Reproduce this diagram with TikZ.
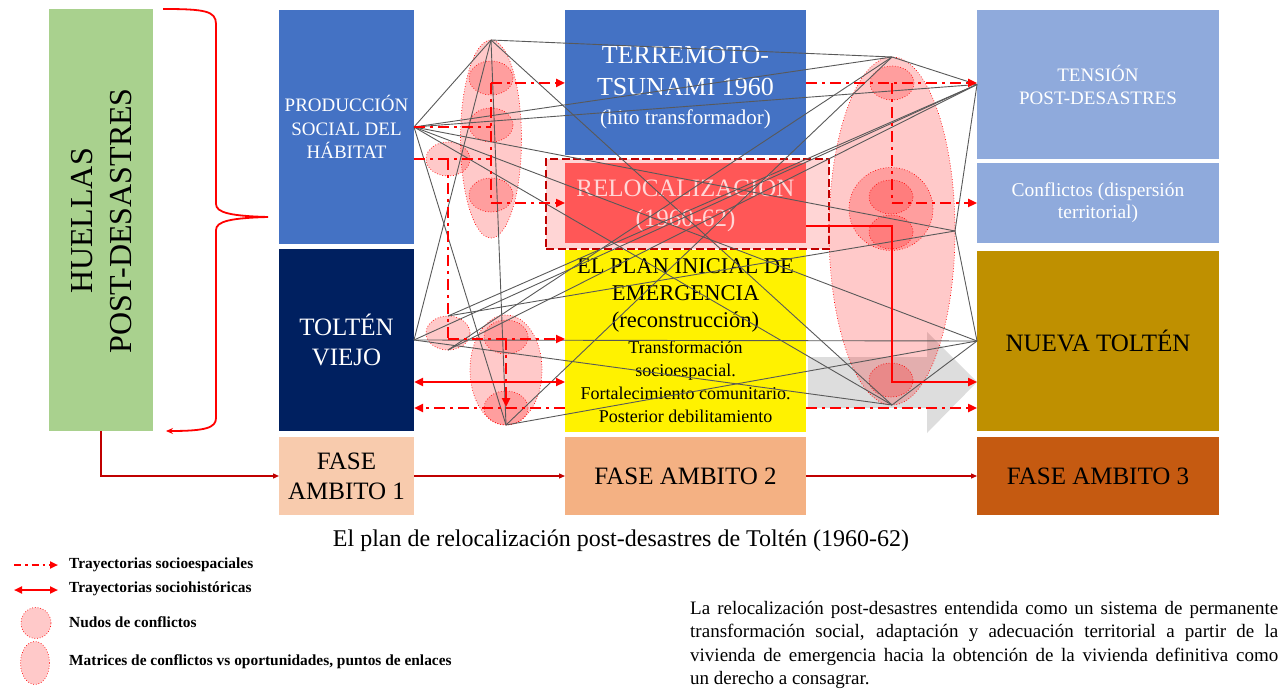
\documentclass[tikz,border=0pt]{standalone}
\usepackage{fontspec}
\setmainfont{Liberation Serif}
\usetikzlibrary{arrows.meta,calc,shapes.geometric}
\definecolor{hgreen}{RGB}{169,209,142}
\definecolor{mblue}{RGB}{68,114,196}
\definecolor{navy}{RGB}{0,32,96}
\definecolor{lblue}{RGB}{143,170,220}
\definecolor{gold}{RGB}{191,144,0}
\definecolor{fase1}{RGB}{248,203,173}
\definecolor{fase2}{RGB}{244,177,131}
\definecolor{fase3}{RGB}{197,90,17}
\definecolor{relred}{RGB}{255,87,87}
\definecolor{darkred}{RGB}{192,0,0}
\definecolor{pinkfill}{RGB}{255,213,213}
\definecolor{reltext}{RGB}{255,214,214}
\definecolor{netgray}{RGB}{89,89,89}
\definecolor{arrowgray}{RGB}{217,217,217}
\begin{document}
\begin{tikzpicture}[x=1pt,y=-1pt,
  box/.style={inner sep=0pt,outer sep=0pt,align=center},
  pinkell/.style={ellipse,draw=red,dotted,line width=0.7pt,fill=red,fill opacity=0.21,inner sep=0pt,outer sep=0pt},
  nodo/.style={pinkell,minimum width=44pt,minimum height=34pt},
  net/.style={draw=netgray,line width=0.9pt},
  traj/.style={draw=red,line width=2.5pt,dash pattern=on 11pt off 5pt on 3pt off 5pt},
  hist/.style={draw=red,line width=2.6pt},
  tip/.style={-{Triangle[length=9pt,width=8pt]}},
  tips2/.style={{Triangle[length=9pt,width=8pt]}-{Triangle[length=9pt,width=8pt]}},
  phase/.style={draw=darkred,line width=1.2pt,-{Triangle[length=6pt,width=5pt]}},
  legtxt/.style={anchor=west,inner sep=0pt,font=\bfseries\fontsize{15.4}{18}\selectfont},
]
\useasboundingbox (0,0) rectangle (1279,692);

% ---------- boxes ----------
\node[box,fill=hgreen,minimum width=104pt,minimum height=422pt] (hue) at (101,220) {};
\node[rotate=90,align=center,font=\fontsize{32}{39}\selectfont] (huetext) at (102,221) {HUELLAS\\POST-DESASTRES};

\node[box,fill=mblue,text=white,minimum width=135pt,minimum height=234pt,font=\fontsize{19}{23.5}\selectfont] (psh) at (346.5,127) {PRODUCCIÓN\\SOCIAL DEL\\HÁBITAT};
\node[box,fill=navy,text=white,minimum width=135pt,minimum height=182pt,font=\fontsize{25}{30}\selectfont] (tv) at (346.5,340) {TOLTÉN\\VIEJO};
\node[box,fill=fase1,minimum width=135pt,minimum height=78pt,font=\fontsize{25}{30}\selectfont] (fa1) at (346.5,476) {FASE\\AMBITO 1};

\node[box,fill=mblue,minimum width=241pt,minimum height=145pt] (ter) at (685.5,82.5) {};
\node[align=center,text=white,font=\fontsize{26}{32}\selectfont] (ter1) at (685.5,71) {TERREMOTO-\\TSUNAMI 1960};
\node[align=center,text=white,font=\fontsize{21}{25}\selectfont] (ter2) at (685.5,119) {(hito transformador)};

\node[box,draw=darkred,line width=2.8pt,dash pattern=on 8pt off 3.5pt,fill=pinkfill,minimum width=283pt,minimum height=90pt] (relbg) at (687.5,204) {};
\node[box,fill=relred,text=reltext,minimum width=241pt,minimum height=80pt,font=\fontsize{25}{30}\selectfont] (rel) at (685.5,203) {RELOCALIZACIÓN\\(1960-62)};

\node[box,fill=yellow,minimum width=241pt,minimum height=182pt] (plan) at (685.5,341) {};
\node[align=center,font=\fontsize{22.5}{27}\selectfont] (plan1) at (685.5,295) {EL PLAN INICIAL DE\\EMERGENCIA\\(reconstrucción)};
\node[align=center,font=\fontsize{18}{23}\selectfont] (plan2) at (685.5,382) {Transformación\\socioespacial.\\Fortalecimiento comunitario.\\Posterior debilitamiento};
\node[box,fill=fase2,minimum width=241pt,minimum height=78pt,font=\fontsize{25}{30}\selectfont] (fa2) at (685.5,476) {FASE AMBITO 2};

\node[box,fill=lblue,text=white,minimum width=242pt,minimum height=149pt,font=\fontsize{19}{23}\selectfont] (ten) at (1098,84.5) {TENSIÓN\\POST-DESASTRES};
\node[box,fill=lblue,text=white,minimum width=242pt,minimum height=80pt,font=\fontsize{19.5}{22}\selectfont] (con) at (1098,203) {Conflictos (dispersión\\territorial)};
\node[box,fill=gold,minimum width=242pt,minimum height=180pt,font=\fontsize{25}{30}\selectfont] (nt) at (1098,341) {NUEVA TOLTÉN};
\node[box,fill=fase3,minimum width=242pt,minimum height=78pt,font=\fontsize{25}{30}\selectfont] (fa3) at (1098,476) {FASE AMBITO 3};

% ---------- grey block arrow ----------
\fill[arrowgray,opacity=0.9] (808,357) -- (927,357) -- (927,332) -- (977,382) -- (927,433) -- (927,408) -- (808,408) -- cycle;

% ---------- conflict ellipses ----------
\node[pinkell,minimum width=61pt,minimum height=198pt] (mL) at (491,139) {};
\node[nodo] (nL1) at (491,78) {};
\node[nodo] (nL2) at (491,125) {};
\node[nodo] (nL3) at (491,195) {};
\node[nodo] (nL4) at (448,159) {};
\node[nodo] (nB1) at (448,333) {};
\node[pinkell,minimum width=72pt,minimum height=110pt] (mB) at (506,370) {};
\node[nodo] (nB2) at (506,337) {};
\node[nodo] (nB3) at (506,408) {};
\node[pinkell,minimum width=126pt,minimum height=348pt] (mR) at (892,231) {};
\node[nodo] (nR1) at (892,83) {};
\node[pinkell,minimum width=84pt,minimum height=83pt] (rR) at (891,209) {};
\node[nodo] (nR2) at (891,197) {};
\node[nodo] (nR3) at (891,232) {};
\node[nodo] (nR4) at (891,380) {};

% ---------- network of grey links ----------
\coordinate (A) at (psh.east);
\coordinate (B) at (mL.north);
\coordinate (C) at (mR.north);
\coordinate (D) at (ten.west);
\coordinate (E) at (mR.east);
\coordinate (F) at (nt.west);
\coordinate (G) at (mR.south);
\coordinate (H) at (tv.east);
\coordinate (I) at (mB.south);
\coordinate (J1) at (nB1.north);
\coordinate (J2) at (nB1.south);
\foreach \p/\q in {B/C,B/A,B/H,B/I,B/G,A/C,A/D,A/E,A/F,A/G,A/I,C/D,C/I,C/J2,D/E,D/H,D/J1,D/J2,E/J1,E/F,F/H,F/I,F/G,G/H}
  \draw[net] (\p) -- (\q);

% ---------- trajectories ----------
\coordinate (ja) at (491,83);
\coordinate (jb) at (491,127);
\coordinate (jc) at (491,203);
\coordinate (jd) at (448,159);
\coordinate (je) at (491,159);
\coordinate (jf) at (448,339);
\coordinate (jg) at (506,339);
\coordinate (jh) at (506,407);
\coordinate (ji) at (892,83);
\coordinate (jj) at (892,203);
\coordinate (jk) at (892,226);
\coordinate (jl) at (892,382);
\coordinate (y382) at (0,382);
\coordinate (y408) at (0,408);

\draw[traj] (psh.east) -- (jb);
\draw[traj,tip] (ja) -- (ja -| ter.west);
\draw[traj] (ja) -- (jc);
\draw[traj,tip] (jc) -- (jc -| rel.west);
\draw[traj] (jd -| psh.east) -- (je);
\draw[traj] (jd) -- (jf);
\draw[traj,tip] (jf) -- (jf -| plan.west);
\draw[traj,tip] (jg) -- (jh);
\draw[hist,tips2] (y382 -| tv.east) -- (y382 -| plan.west);
\draw[traj,tip] (y408 -| plan.west) -- (y408 -| tv.east);
\draw[traj,tip] (y408 -| plan.east) -- (y408 -| nt.west);
\draw[hist,tip] (jk -| rel.east) -- (jk) -- (jl) -- (jl -| nt.west);
\draw[traj,tip] (ji -| ter.east) -- (ji -| ten.west);
\draw[traj] (ji) -- (jj);
\draw[traj,tip] (jj) -- (jj -| con.west);

% ---------- brace ----------
\coordinate (bs) at (163,9);
\coordinate (bt) at (268,217);
\coordinate (be) at (166,431);
\draw[red,line width=1.8pt,-{Stealth[length=7pt,width=6pt]}] (bs) .. controls (205,9) and (216,11) .. (216,24) -- (216,204) .. controls (216,213) and (232,216) .. (bt) .. controls (232,218) and (216,221) .. (216,230) -- (216,418) .. controls (216,428) and (205,431) .. (be);

% ---------- phase connectors ----------
\draw[phase] (hue.south) |- (fa1.west);
\draw[phase] (fa1.east) -- (fa2.west);
\draw[phase] (fa2.east) -- (fa3.west);

% ---------- caption ----------
\node[font=\fontsize{24}{28}\selectfont] (cap) at (621,541) {El plan de relocalización post-desastres de Toltén (1960-62)};

% ---------- legend ----------
\coordinate (lg1a) at (14,565); \coordinate (lg1b) at (58,565);
\coordinate (lg2a) at (14,590); \coordinate (lg2b) at (58,590);
\draw[traj,line width=2pt,dash pattern=on 7pt off 4pt on 2.5pt off 4pt,-{Triangle[length=8pt,width=7pt]}] (lg1a) -- (lg1b);
\draw[hist,line width=2pt,{Triangle[length=8pt,width=7pt]}-{Triangle[length=8pt,width=7pt]}] (lg2a) -- (lg2b);
\node[pinkell,minimum width=30pt,minimum height=31pt] (lgn) at (36,623) {};
\node[pinkell,minimum width=29pt,minimum height=43pt] (lgm) at (35,663) {};
\node[legtxt] (lt1) at (69,565) {Trayectorias socioespaciales};
\node[legtxt] (lt2) at (69,589) {Trayectorias sociohistóricas};
\node[legtxt] (lt3) at (69,622) {Nudos de conflictos};
\node[legtxt] (lt4) at (69,662) {Matrices de conflictos vs oportunidades, puntos de enlaces};

% ---------- paragraph ----------
\node[anchor=north west,text width=588pt,align=justify,inner sep=0pt,font=\fontsize{19}{23.5}\selectfont] (para) at (690,601)
{\hyphenpenalty=10000 \exhyphenpenalty=10000 La relocalización post-desastres entendida como un sistema de permanente\linebreak transformación social, adaptación y adecuación territorial a partir de la\linebreak vivienda de emergencia hacia la obtención de la vivienda definitiva como\linebreak un derecho a consagrar.};
\end{tikzpicture}
\end{document}
